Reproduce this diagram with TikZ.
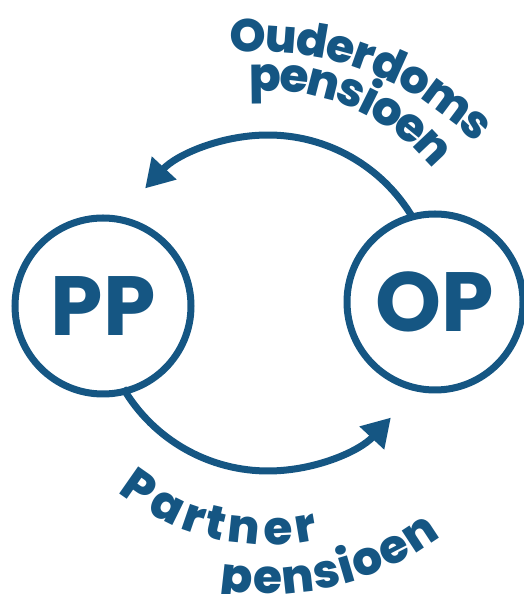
\documentclass[tikz,border=0pt]{standalone}
\usepackage{fontspec}
\setmainfont{Poppins}
\newfontfamily\heavy{Poppins}[UprightFont=* ExtraBold]
\usetikzlibrary{arrows.meta,decorations.text,calc}
\definecolor{pblue}{HTML}{155683}
\newcommand\labfont{\heavy\fontsize{47}{50}\selectfont}
\newcommand\toplabfont{\heavy\fontsize{46}{50}\selectfont}
\newcommand\bigfont{\fontsize{84}{88}\selectfont\bfseries}
\begin{document}
\begin{tikzpicture}[x=1pt,y=1pt,
  ring/.style={circle, draw=pblue, line width=7pt, minimum size=176pt, inner sep=0pt, text=pblue, font=\bigfont},
  flow/.style={draw=pblue, line width=7pt, -{Triangle[length=28pt,width=32pt]}},
  curved/.style 2 args={decorate, decoration={text effects along path, text={#2},
     text effects/.cd, text along path, fit text to path,
     characters={text=pblue, font=#1}}}
]
\useasboundingbox (0,0) rectangle (524,594);
\coordinate (C) at (268,291);
\coordinate (T) at (259,241);
\node[ring] (PP) at (103,288) {PP};
\node[ring] (OP) at (435,292) {OP};
\coordinate (t0) at ($(C)+(30.5:168)$);
\draw[flow] (t0) arc[start angle=30.5, end angle=137, radius=168];
\coordinate (b0) at ($(C)+(210.5:168)$);
\draw[flow] (b0) arc[start angle=210.5, end angle=317, radius=168];
\path[curved={\toplabfont}{Ouderdoms}] ($(T)+(95.5:301)$) arc[start angle=95.5, end angle=44, radius=301];
\path[curved={\labfont}{pensioen}] ($(C)+(95:212)$) arc[start angle=95, end angle=39, radius=212];
\path[curved={\labfont}{Partner}] ($(C)+(231.5:242)$) arc[start angle=231.5, end angle=282, radius=242];
\path[curved={\labfont}{pensioen}] ($(C)+(260.5:291)$) arc[start angle=260.5, end angle=306.5, radius=291];
\end{tikzpicture}
\end{document}
